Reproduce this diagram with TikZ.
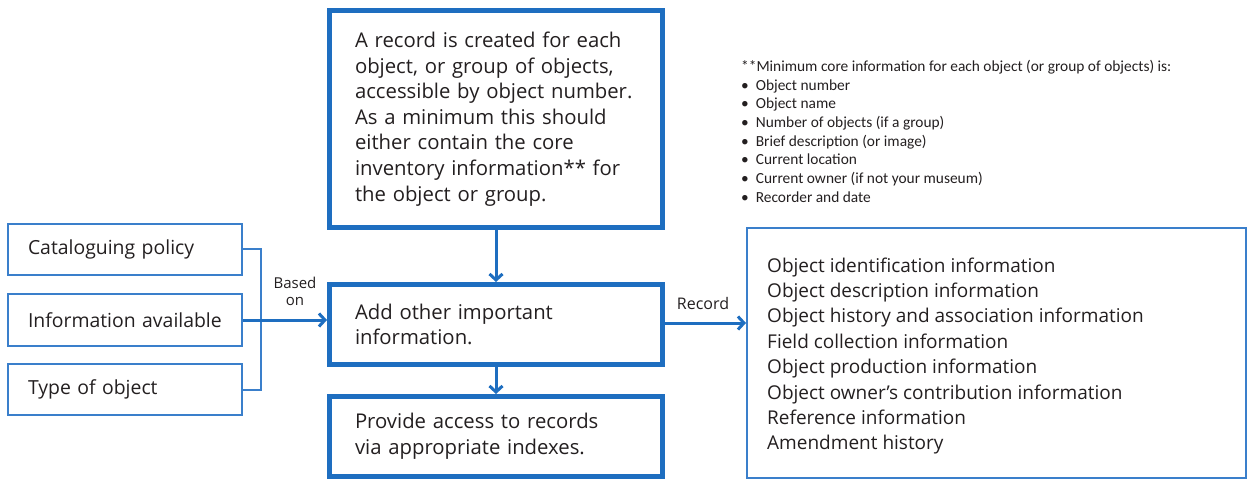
\documentclass[tikz,border=0pt]{standalone}
\usepackage{fontspec}
\setmainfont{Open Sans}
\newfontfamily\notefont{Carlito}
\usetikzlibrary{arrows.meta}
\definecolor{boxblue}{HTML}{1E6EC0}
\definecolor{lineblue}{HTML}{3A7FCB}
\definecolor{ink}{HTML}{231F20}
\tikzset{
  bigbox/.style={draw=boxblue, line width=5pt, fill=white, align=left, text=ink,
    font=\fontsize{20.3}{25.6}\selectfont, inner sep=0pt},
  smallbox/.style={draw=lineblue, line width=2pt, align=left, text=ink,
    font=\fontsize{19.4}{25}\selectfont, inner sep=0pt},
  listtext/.style={inner sep=0pt, align=left, text=ink},
  flowarrow/.style={draw=boxblue, line width=3pt, -{Straight Barb[length=6pt,width=13pt]}},
  bracket/.style={draw=lineblue, line width=2pt},
  tag/.style={text=ink, font=\fontsize{15}{17}\selectfont, align=center, inner sep=0pt}
}
\begin{document}
\begin{tikzpicture}[x=1pt,y=-1pt]
\useasboundingbox (0,0) rectangle (1248,481);

% main flow column
\node[bigbox, minimum width=333pt, minimum height=217pt, text width=282pt] (create) at (496,119)
  {A record is created for each\\object, or group of objects,\\accessible by object number.\\As a minimum this should\\either contain the core\\inventory information** for\\the object or group.};
\node[bigbox, minimum width=333pt, minimum height=80pt, text width=282pt] (add) at (496,324.5)
  {Add other important\\information.};
\node[bigbox, minimum width=333pt, minimum height=80pt, text width=282pt] (access) at (496,436.5)
  {Provide access to records\\via appropriate indexes.};

% inputs on the left
\node[smallbox, minimum width=234pt, minimum height=51pt, text width=194pt] (policy) at (125,249.5) {Cataloguing policy};
\node[smallbox, minimum width=234pt, minimum height=52pt, text width=194pt] (avail) at (125,320) {Information available};
\node[smallbox, minimum width=234pt, minimum height=51pt, text width=194pt] (type) at (125,389.5) {Type of object};

% record contents on the right
\node[smallbox, minimum width=499pt, minimum height=250pt] (contents) at (996.5,353) {};
\node[listtext, anchor=west, font=\fontsize{19}{25.4}\selectfont]
  (contentlist) at ([xshift=21pt,yshift=-3pt]contents.west)
  {Object identification information\\Object description information\\Object history and association information\\Field collection information\\Object production information\\Object owner’s contribution information\\Reference information\\Amendment history};

% footnote with the core inventory list
\node[listtext, anchor=north west, font=\notefont\fontsize{15.4}{18.7}\selectfont] (core) at (741,60)
  {**Minimum core information for each object (or group of objects) is:\\
   \textbullet\ \ Object number\\
   \textbullet\ \ Object name\\
   \textbullet\ \ Number of objects (if a group)\\
   \textbullet\ \ Brief description (or image)\\
   \textbullet\ \ Current location\\
   \textbullet\ \ Current owner (if not your museum)\\
   \textbullet\ \ Recorder and date};

% connectors
\coordinate (join) at (261,0);
\draw[bracket] (policy.east) -- (policy.east -| join) -- (type.east -| join) -- (type.east);
\draw[flowarrow] (avail.east) -- (avail.east -| add.west);
\draw[flowarrow] (create.south) -- (add.north);
\draw[flowarrow] (add.south) -- (access.north);
\draw[flowarrow] (add.east |- 0,323) -- (contents.west |- 0,323);

\node[tag] (based) at (295,291) {Based\\on};
\node[tag, font=\fontsize{16}{18}\selectfont] (rec) at (703,303) {Record};
\end{tikzpicture}
\end{document}
